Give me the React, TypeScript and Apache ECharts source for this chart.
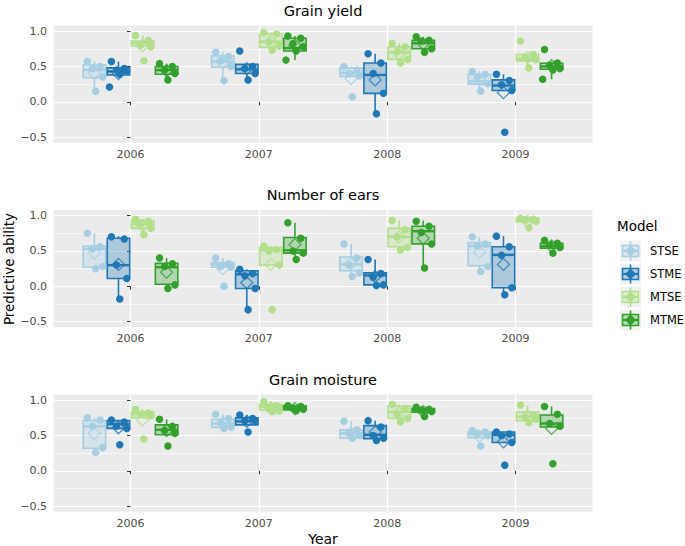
import React, { useEffect, useRef } from 'react';
import * as echarts from 'echarts';

const YEARS = ['2006', '2007', '2008', '2009'];
const MODELS = ['STSE', 'STME', 'MTSE', 'MTME'];
const COLORS = ['#A6CEE3', '#1F78B4', '#B2DF8A', '#33A02C'];
const PANEL_TITLES = ['Grain yield', 'Number of ears', 'Grain moisture'];
const Y_TICKS = [-0.5, 0, 0.5, 1];
const Y_MINOR = [-0.25, 0.25, 0.75];

// [lower whisker, Q1, median, Q3, upper whisker] per model, per year
const yieldBox = [
  [[0.15, 0.34, 0.45, 0.52, 0.57], [0.30, 0.49, 0.57, 0.65, 0.70], [0.35, 0.36, 0.41, 0.48, 0.50], [0.15, 0.25, 0.29, 0.39, 0.43]],
  [[0.38, 0.38, 0.43, 0.48, 0.57], [0.31, 0.40, 0.46, 0.53, 0.53], [-0.17, 0.12, 0.38, 0.55, 0.68], [0.15, 0.16, 0.23, 0.31, 0.39]],
  [[0.78, 0.79, 0.83, 0.86, 0.94], [0.73, 0.77, 0.85, 0.96, 0.98], [0.55, 0.60, 0.70, 0.78, 0.83], [0.48, 0.58, 0.61, 0.67, 0.67]],
  [[0.33, 0.39, 0.45, 0.50, 0.54], [0.59, 0.72, 0.76, 0.90, 0.93], [0.70, 0.75, 0.83, 0.87, 0.92], [0.32, 0.46, 0.50, 0.545, 0.55]],
];
const yieldMean = [
  [0.41, 0.55, 0.33, 0.31],
  [0.40, 0.47, 0.31, 0.13],
  [0.79, 0.85, 0.68, 0.63],
  [0.44, 0.80, 0.82, 0.51],
];
const yieldPts = [
  [[0.57, 0.50, 0.47, 0.35, 0.15], [0.70, 0.64, 0.58, 0.50, 0.30], [0.50, 0.45, 0.40, 0.37, 0.07], [0.43, 0.39, 0.35, 0.26, 0.15]],
  [[0.57, 0.47, 0.45, 0.44, 0.39, 0.21], [0.72, 0.50, 0.47, 0.40, 0.31], [0.68, 0.55, 0.40, 0.12, -0.17], [0.39, 0.30, 0.24, 0.16, -0.43]],
  [[0.94, 0.87, 0.80, 0.78, 0.58], [0.98, 0.96, 0.85, 0.79, 0.73], [0.83, 0.78, 0.71, 0.60, 0.55], [0.86, 0.67, 0.62, 0.60, 0.48]],
  [[0.54, 0.50, 0.45, 0.40, 0.31], [0.93, 0.90, 0.82, 0.78, 0.72, 0.59], [0.92, 0.87, 0.86, 0.75, 0.70], [0.74, 0.55, 0.52, 0.47, 0.45, 0.32]],
];

const earsBox = [
  [[0.25, 0.27, 0.53, 0.57, 0.75], [0.27, 0.27, 0.31, 0.335, 0.40], [0.14, 0.22, 0.31, 0.415, 0.60], [0.21, 0.29, 0.57, 0.62, 0.70]],
  [[-0.18, 0.11, 0.30, 0.68, 0.71], [-0.31, -0.03, 0.17, 0.22, 0.24], [0.01, 0.02, 0.155, 0.19, 0.38], [-0.12, -0.02, 0.445, 0.56, 0.71]],
  [[0.74, 0.82, 0.88, 0.93, 0.95], [0.30, 0.30, 0.51, 0.55, 0.57], [0.51, 0.56, 0.70, 0.82, 0.93], [0.915, 0.915, 0.945, 0.965, 0.97]],
  [[-0.03, 0.03, 0.27, 0.325, 0.40], [0.38, 0.47, 0.51, 0.69, 0.90], [0.26, 0.60, 0.78, 0.85, 0.93], [0.53, 0.54, 0.57, 0.61, 0.65]],
];
const earsMean = [
  [0.47, 0.25, 0.32, 0.48],
  [0.31, 0.05, 0.14, 0.31],
  [0.86, 0.31, 0.70, 0.92],
  [0.20, 0.59, 0.68, 0.57],
];
const earsPts = [
  [[0.75, 0.56, 0.53, 0.28, 0.25], [0.40, 0.32, 0.28, 0.27, 0.00], [0.60, 0.40, 0.30, 0.19, 0.14], [0.70, 0.60, 0.57, 0.28, 0.21]],
  [[0.70, 0.67, 0.30, 0.11, -0.18], [0.24, 0.18, 0.15, -0.03, -0.33], [0.38, 0.18, 0.13, 0.02, 0.01], [0.71, 0.56, 0.44, -0.02, -0.12]],
  [[0.95, 0.92, 0.89, 0.82, 0.73], [0.57, 0.52, 0.50, 0.30, -0.33], [0.93, 0.80, 0.70, 0.55, 0.51], [0.96, 0.95, 0.94, 0.92, 0.83]],
  [[0.40, 0.32, 0.28, 0.02, -0.03], [0.90, 0.68, 0.50, 0.47, 0.38], [0.92, 0.85, 0.76, 0.60, 0.26], [0.65, 0.61, 0.58, 0.55, 0.47]],
];

const moistBox = [
  [[0.26, 0.32, 0.63, 0.71, 0.75], [0.60, 0.615, 0.67, 0.73, 0.80], [0.46, 0.46, 0.53, 0.58, 0.70], [0.47, 0.47, 0.52, 0.55, 0.57]],
  [[0.60, 0.60, 0.66, 0.71, 0.72], [0.65, 0.65, 0.70, 0.75, 0.79], [0.43, 0.455, 0.51, 0.64, 0.71], [0.40, 0.40, 0.51, 0.55, 0.55]],
  [[0.75, 0.75, 0.80, 0.835, 0.87], [0.84, 0.86, 0.91, 0.94, 0.98], [0.69, 0.74, 0.835, 0.915, 0.94], [0.66, 0.71, 0.765, 0.83, 0.93]],
  [[0.51, 0.51, 0.58, 0.65, 0.73], [0.85, 0.86, 0.89, 0.92, 0.92], [0.77, 0.83, 0.86, 0.88, 0.90], [0.62, 0.62, 0.67, 0.79, 0.91]],
];
const moistMean = [
  [0.53, 0.68, 0.53, 0.49],
  [0.61, 0.70, 0.55, 0.41],
  [0.72, 0.89, 0.82, 0.77],
  [0.57, 0.88, 0.84, 0.60],
];
const moistPts = [
  [[0.75, 0.72, 0.63, 0.33, 0.26], [0.80, 0.74, 0.68, 0.62, 0.60], [0.70, 0.58, 0.54, 0.50, 0.46], [0.57, 0.55, 0.53, 0.50, 0.35]],
  [[0.72, 0.69, 0.63, 0.60, 0.37], [0.79, 0.74, 0.71, 0.70, 0.55], [0.71, 0.62, 0.50, 0.46, 0.43], [0.55, 0.52, 0.50, 0.40, 0.08]],
  [[0.87, 0.82, 0.80, 0.78, 0.45], [0.98, 0.92, 0.88, 0.85, 0.84], [0.94, 0.88, 0.80, 0.74, 0.69], [0.93, 0.79, 0.76, 0.73, 0.68]],
  [[0.73, 0.63, 0.57, 0.53, 0.35], [0.92, 0.91, 0.89, 0.87, 0.85], [0.90, 0.87, 0.86, 0.84, 0.77], [0.91, 0.80, 0.67, 0.63, 0.10]],
];

const PANEL_BOX = [yieldBox, earsBox, moistBox];
const PANEL_MEAN = [yieldMean, earsMean, moistMean];
const PANEL_PTS = [yieldPts, earsPts, moistPts];

// layout constants (not data)
const DODGE = [-0.28125, -0.09375, 0.09375, 0.28125];
const JITTER = [-0.055, 0.045, -0.015, 0.065, 0.01, -0.07];
const BOX_W = 0.175;
const GRID_LEFT = 53.5;
const GRID_W = 539;
const GRID_H = 117.3;
const GRID_TOPS = [25.5, 210, 394.5];
const FONT = 'DejaVu Sans';

function rgba(hex: string, a: number) {
  const n = parseInt(hex.slice(1), 16);
  return `rgba(${(n >> 16) & 255},${(n >> 8) & 255},${n & 255},${a})`;
}

function yFmt(v: number) {
  if (Math.abs(v) < 1e-9) return '0.0';
  return v < 0 ? '\u2212' + Math.abs(v).toFixed(1) : v.toFixed(1);
}

function buildOption() {
  const grid: any[] = [];
  const xAxis: any[] = [];
  const yAxis: any[] = [];
  const series: any[] = [];
  const graphic: any[] = [];

  PANEL_TITLES.forEach((title, p) => {
    grid.push({
      left: GRID_LEFT, top: GRID_TOPS[p], width: GRID_W, height: GRID_H,
      show: true, backgroundColor: '#EBEBEB', borderWidth: 0, containLabel: false,
    });
    xAxis.push({
      type: 'value', gridIndex: p, min: -0.6, max: 3.6,
      axisLine: { show: false },
      axisTick: { show: true, customValues: [0, 1, 2, 3], length: 3.5, lineStyle: { color: '#333333', width: 1 } },
      axisLabel: {
        show: true, customValues: [0, 1, 2, 3], margin: 6,
        formatter: (v: number) => YEARS[Math.round(v)] ?? '',
        color: '#4D4D4D', fontSize: 11, fontFamily: FONT,
      },
      splitLine: { show: true, lineStyle: { color: '#FFFFFF', width: 1.2 } },
    });
    yAxis.push({
      type: 'value', gridIndex: p, min: -0.58, max: 1.08,
      axisLine: { show: false },
      axisTick: { show: true, customValues: Y_TICKS, length: 3.5, lineStyle: { color: '#333333', width: 1 } },
      axisLabel: {
        show: true, customValues: Y_TICKS, margin: 6.5, formatter: yFmt,
        color: '#4D4D4D', fontSize: 11, fontFamily: FONT,
      },
      splitLine: { show: true, lineStyle: { color: '#FFFFFF', width: 1.2 } },
    });
    yAxis.push({
      type: 'value', gridIndex: p, min: -0.58, max: 1.08, position: 'left',
      axisLine: { show: false },
      axisTick: { show: false, customValues: Y_MINOR },
      axisLabel: { show: false, customValues: Y_MINOR },
      splitLine: { show: true, lineStyle: { color: '#FFFFFF', width: 0.6 } },
    });

    graphic.push({
      type: 'text', x: GRID_LEFT + GRID_W / 2, y: GRID_TOPS[p] - 15,
      style: { text: title, fill: '#000000', font: `14.5px "${FONT}"`, textAlign: 'center', textVerticalAlign: 'middle' },
    });

    MODELS.forEach((model, m) => {
      const color = COLORS[m];
      const boxes = PANEL_BOX[p][m];
      series.push({
        type: 'custom', name: model, xAxisIndex: p, yAxisIndex: p * 2,
        encode: { x: 0, y: [1, 2, 3, 4, 5] },
        data: boxes.map((b, yi) => [yi + DODGE[m], ...b]),
        renderItem: (params: any, api: any) => {
          const x = api.value(0);
          const lo = api.coord([x, api.value(1)]);
          const q1 = api.coord([x, api.value(2)]);
          const md = api.coord([x, api.value(3)]);
          const q3 = api.coord([x, api.value(4)]);
          const hi = api.coord([x, api.value(5)]);
          const w = api.size([BOX_W, 0])[0];
          const cx = lo[0];
          return {
            type: 'group',
            children: [
              { type: 'line', shape: { x1: cx, y1: q3[1], x2: cx, y2: hi[1] }, style: { stroke: color, lineWidth: 1.6 } },
              { type: 'line', shape: { x1: cx, y1: q1[1], x2: cx, y2: lo[1] }, style: { stroke: color, lineWidth: 1.6 } },
              { type: 'rect', shape: { x: cx - w / 2, y: q3[1], width: w, height: q1[1] - q3[1] }, style: { fill: rgba(color, 0.3), stroke: color, lineWidth: 1.6 } },
              { type: 'line', shape: { x1: cx - w / 2, y1: md[1], x2: cx + w / 2, y2: md[1] }, style: { stroke: color, lineWidth: 2.4 } },
            ],
          };
        },
        z: 2,
      });
      const pts: number[][] = [];
      PANEL_PTS[p][m].forEach((arr, yi) => {
        arr.forEach((v, k) => pts.push([yi + DODGE[m] + JITTER[k % JITTER.length], v]));
      });
      series.push({
        type: 'scatter', name: model, xAxisIndex: p, yAxisIndex: p * 2,
        data: pts, symbol: 'circle', symbolSize: 7.5,
        itemStyle: { color, opacity: 1 }, z: 3,
      });
      series.push({
        type: 'scatter', name: model, xAxisIndex: p, yAxisIndex: p * 2,
        data: PANEL_MEAN[p][m].map((v, yi) => [yi + DODGE[m], v]),
        symbol: 'diamond', symbolSize: [12, 12],
        itemStyle: { color: 'rgba(0,0,0,0)', borderColor: color, borderWidth: 1.3 }, z: 4,
      });
    });
  });

  // axis titles
  graphic.push({
    type: 'text', x: GRID_LEFT + GRID_W / 2, y: 539,
    style: { text: 'Year', fill: '#000000', font: `14px "${FONT}"`, textAlign: 'center', textVerticalAlign: 'middle' },
  });
  graphic.push({
    type: 'text', x: 9, y: 269, rotation: Math.PI / 2,
    style: { text: 'Predictive ability', fill: '#000000', font: `13.5px "${FONT}"`, textAlign: 'center', textVerticalAlign: 'middle' },
  });

  // legend
  graphic.push({
    type: 'text', x: 617, y: 226,
    style: { text: 'Model', fill: '#000000', font: `13.5px "${FONT}"`, textAlign: 'left', textVerticalAlign: 'middle' },
  });
  MODELS.forEach((model, m) => {
    const color = COLORS[m];
    const cy = 251 + m * 23;
    const kx = 620;
    const ks = 21;
    graphic.push({
      type: 'group', x: kx, y: cy - ks / 2,
      children: [
        { type: 'rect', shape: { x: 0, y: 0, width: ks, height: ks }, style: { fill: '#F2F2F2' } },
        { type: 'line', shape: { x1: ks / 2, y1: 1, x2: ks / 2, y2: ks - 1 }, style: { stroke: color, lineWidth: 1.6 } },
        { type: 'rect', shape: { x: 2.5, y: 5, width: ks - 5, height: ks - 10 }, style: { fill: rgba(color, 0.3), stroke: color, lineWidth: 1.6 } },
        { type: 'line', shape: { x1: 2.5, y1: ks / 2, x2: ks - 2.5, y2: ks / 2 }, style: { stroke: color, lineWidth: 2.2 } },
        { type: 'polygon', shape: { points: [[ks / 2, ks / 2 - 5], [ks / 2 + 5, ks / 2], [ks / 2, ks / 2 + 5], [ks / 2 - 5, ks / 2]] }, style: { fill: color, stroke: color, lineWidth: 1 } },
        { type: 'circle', shape: { cx: ks / 2, cy: ks / 2, r: 3.6 }, style: { fill: color } },
      ],
    });
    graphic.push({
      type: 'text', x: 650, y: cy,
      style: { text: model, fill: '#000000', font: `11.5px "${FONT}"`, textAlign: 'left', textVerticalAlign: 'middle' },
    });
  });

  return {
    animation: false,
    backgroundColor: '#FFFFFF',
    grid, xAxis, yAxis, series, graphic,
  };
}

export default function App() {
  const ref = useRef<HTMLDivElement>(null);
  useEffect(() => {
    if (!ref.current) return;
    const chart = echarts.init(ref.current, undefined, { renderer: 'svg' });
    chart.setOption(buildOption());
    return () => chart.dispose();
  }, []);
  return <div ref={ref} style={{ position: 'fixed', left: 0, top: 0, width: 685, height: 546 }} />;
}
